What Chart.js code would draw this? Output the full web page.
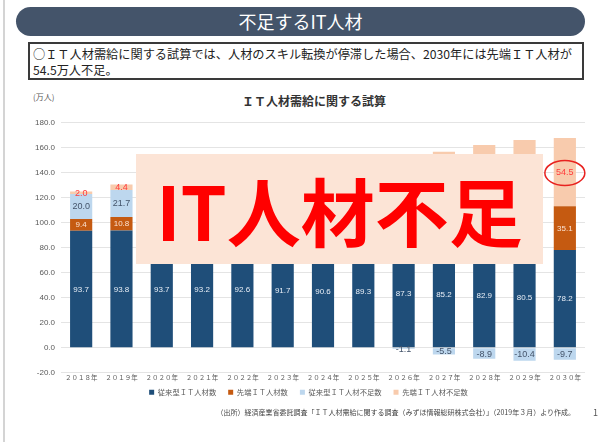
<!DOCTYPE html>
<html lang="ja">
<head>
<meta charset="utf-8">
<script src="https://cdn.jsdelivr.net/npm/chart.js@4.4.1/dist/chart.umd.min.js"></script>
<style>
  body { margin: 0; width: 599px; height: 442px; background: #fff; position: relative; overflow: hidden;
         font-family: "Noto Sans CJK JP", "Noto Sans", sans-serif; }
  #edge { position: absolute; left: 3px; top: 0; width: 2px; height: 442px; background: #d4d4d4; }
  #banner { position: absolute; left: 16px; top: 7px; width: 569px; height: 29px; border-radius: 15px;
            background: #44546a; color: #fff; font-size: 18px; line-height: 29px; text-align: center; }
  #note { position: absolute; left: 28px; top: 42px; width: 549px; height: 32px; padding: 2px 0 0 3px;
          border: 2px solid #3a3a3a; font-size: 12.2px; line-height: 16px; color: #222; white-space: nowrap; }
  #unit { position: absolute; left: 33px; top: 91px; font-size: 8px; color: #595959; }
  #ctitle { position: absolute; left: 200px; width: 228px; top: 92px; text-align: center;
            font-size: 12px; font-weight: 700; color: #333; }
  #wrap { position: absolute; left: 0; top: 112px; }
  #stamp { position: absolute; left: 136px; top: 154px; width: 407px; height: 110px; background: #fce4d6;
           color: #ff0000; font-weight: 700; font-size: 74px; line-height: 110px; text-align: center; z-index: 5; }
  #source { position: absolute; right: 24px; top: 407px; font-size: 7px; color: #444; white-space: nowrap; }
  #page { position: absolute; left: 593px; top: 406px; font-size: 9px; color: #555; }
</style>
</head>
<body>
<div id="edge"></div>
<div id="banner">不足するIT人材</div>
<div id="note">○ＩＴ人材需給に関する試算では、人材のスキル転換が停滞した場合、2030年には先端ＩＴ人材が<br>54.5万人不足。</div>
<div id="unit">(万人)</div>
<div id="ctitle">ＩＴ人材需給に関する試算</div>
<div id="wrap"><canvas id="itChart" width="590" height="302"></canvas></div>
<div id="stamp">IT人材不足</div>
<div id="source">（出所）経済産業省委託調査「ＩＴ人材需給に関する調査（みずほ情報総研株式会社）」（2019年３月）より作成。</div>
<div id="page">1</div>

<script>
const years = ['２０１８年', '２０１９年', '２０２０年', '２０２１年', '２０２２年', '２０２３年', '２０２４年',
               '２０２５年', '２０２６年', '２０２７年', '２０２８年', '２０２９年', '２０３０年'];
const conventionalStaff = [93.7, 93.8, 93.7, 93.2, 92.6, 91.7, 90.6, 89.3, 87.3, 85.2, 82.9, 80.5, 78.2];
const advancedStaff = [9.4, 10.8, 12.3, 14.0, 15.9, 18.0, 20.2, 22.6, 25.1, 27.7, 30.3, 32.7, 35.1];
const conventionalShortage = [20.0, 21.7, 18.5, 15.4, 12.1, 8.6, 5.2, 2.0, -1.1, -5.5, -8.9, -10.4, -9.7];
const advancedShortage = [2.0, 4.4, 9.0, 14.0, 19.0, 24.0, 29.0, 34.0, 38.5, 44.0, 49.0, 53.0, 54.5];
const yTicks = [-20, 0, 20, 40, 60, 80, 100, 120, 140, 160, 180];

const seriesNames = ['従来型ＩＴ人材数', '先端ＩＴ人材数', '従来型ＩＴ人材不足数', '先端ＩＴ人材不足数'];
const seriesColors = ['#1f4e79', '#c55a11', '#bdd7ee', '#f8cbad'];
const labelColors = ['#e8eef6', '#fbe3d3', '#44546a', '#ff3b3b'];
const labelFonts = ['8px "Liberation Sans"', '8px "Liberation Sans"', '9px "Liberation Sans"', '9px "Liberation Sans"'];

// values written in the middle of each bar segment, plus the red ring on 2030
const barLabels = {
  id: 'barLabels',
  afterLayout(chart) {
    // legend sits a little up and right of where Chart.js puts it
    chart.legend.left += 16;
    chart.legend.right += 16;
    chart.legend.top -= 8;
    chart.legend.bottom -= 8;
  },
  afterDatasetsDraw(chart) {
    const ctx = chart.ctx;
    chart.data.datasets.forEach((ds, i) => {
      chart.getDatasetMeta(i).data.forEach((bar, j) => {
        ctx.save();
        ctx.font = labelFonts[i];
        ctx.fillStyle = labelColors[i];
        ctx.textAlign = 'center';
        ctx.textBaseline = 'middle';
        ctx.fillText(ds.data[j].toFixed(1), bar.x, (bar.y + bar.base) / 2 + 0.5);
        ctx.restore();
      });
    });
    const meta = chart.getDatasetMeta(3);
    const last = meta.data[meta.data.length - 1];
    ctx.save();
    ctx.strokeStyle = '#e8221f';
    ctx.lineWidth = 1.5;
    ctx.beginPath();
    ctx.ellipse(last.x, (last.y + last.base) / 2 + 1, 20, 12.5, 0, 0, Math.PI * 2);
    ctx.stroke();
    ctx.restore();
  }
};

const ctx = document.getElementById('itChart').getContext('2d');
new Chart(ctx, {
  type: 'bar',
  data: {
    labels: years,
    datasets: [conventionalStaff, advancedStaff, conventionalShortage, advancedShortage].map((d, i) => ({
      label: seriesNames[i],
      data: d,
      backgroundColor: seriesColors[i],
      stack: 'it',
      barPercentage: 0.55,
      categoryPercentage: 1.0,
    })),
  },
  options: {
    responsive: false,
    animation: false,
    devicePixelRatio: 1,
    layout: { padding: { top: 8, right: 5, left: 0, bottom: 0 } },
    plugins: {
      tooltip: { enabled: false },
      legend: {
        position: 'bottom',
        labels: {
          boxWidth: 5,
          boxHeight: 5,
          padding: 12,
          color: '#595959',
          font: { size: 7.3, family: '"Noto Sans CJK JP"' },
        },
      },
    },
    scales: {
      x: {
        stacked: true,
        grid: { display: false, drawTicks: false },
        border: { display: false },
        ticks: { color: '#595959', padding: 1, maxRotation: 0, font: { size: 6.5, family: '"Noto Sans CJK JP"' } },
        afterFit(scale) { scale.height = 12; },
      },
      y: {
        stacked: true,
        min: -20,
        max: 180,
        afterBuildTicks(scale) { scale.ticks = yTicks.map(v => ({ value: v })); },
        grid: { color: '#e4e4e4', drawTicks: false },
        border: { display: false },
        ticks: {
          color: '#595959',
          padding: 6,
          font: { size: 8, family: '"Liberation Sans"' },
          callback: v => v.toFixed(1),
        },
        afterFit(scale) { scale.width = 61; },
      },
    },
  },
  plugins: [barLabels],
});
</script>
</body>
</html>
